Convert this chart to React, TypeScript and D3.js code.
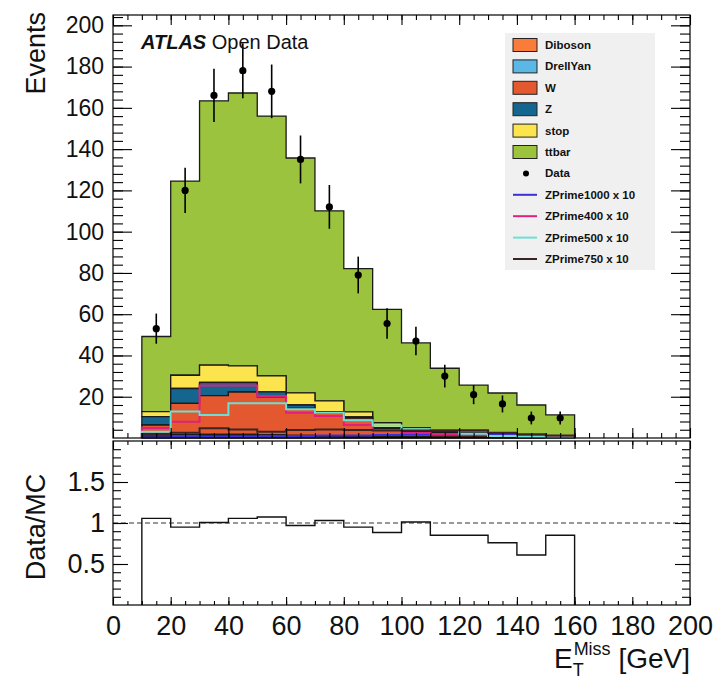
import React, { useEffect, useRef } from 'react';
import { select, scaleLinear, axisLeft, axisRight, axisTop, axisBottom, area, line, curveStepAfter, range } from 'd3';

// bin lower edges (GeV), width 10
const binLow = [10, 20, 30, 40, 50, 60, 70, 80, 90, 100, 110, 120, 130, 140, 150];

// MC stack, bottom to top
const diboson = [0.4, 0.8, 1.0, 1.1, 1.0, 0.9, 0.8, 0.6, 0.5, 0.4, 0.3, 0.3, 0.2, 0.2, 0.1];
const drellYan = [0.5, 0.8, 0.8, 0.6, 0.5, 0.4, 0.3, 0.2, 0.2, 0.1, 0.1, 0.1, 0.1, 0.05, 0.05];
const wjets = [5.4, 15.2, 18.7, 20.6, 18.5, 13.1, 10.9, 8.8, 3.9, 2.7, 2.2, 2.1, 1.3, 0.75, 0.25];
const zjets = [4.1, 7.2, 6.5, 4.7, 2.4, 1.6, 0.8, 0.6, 0.4, 0.3, 0.3, 0.2, 0.2, 0.1, 0.1];
const stop = [2.4, 6.4, 8.3, 8.0, 7.7, 5.9, 5.2, 2.5, 2.4, 1.4, 1.0, 0.9, 0.7, 0.5, 0.2];
const ttbar = [36.4, 94.1, 128.1, 132.2, 125.9, 113.8, 92.1, 69.4, 54.9, 41.2, 29.9, 22.0, 19.3, 14.4, 10.5];

// signal x 10
const zp1000 = [0.3, 0.5, 0.7, 0.8, 1.0, 1.0, 1.2, 1.2, 1.4, 1.6, 1.6, 1.5, 1.5, 1.2, 1.0];
const zp400 = [4.9, 7.9, 25.4, 25.4, 20.3, 12.2, 10.7, 6.3, 3.9, 2.4, 1.9, 1.4, 1.0, 1.5, 1.0];
const zp500 = [3.0, 12.8, 11.2, 16.8, 16.8, 13.9, 12.2, 8.6, 6.1, 4.2, 3.9, 2.0, 1.0, 0.5, 0.3];
const zp750 = [1.9, 2.5, 4.7, 4.1, 3.0, 3.9, 4.1, 3.9, 3.6, 3.6, 3.7, 3.7, 2.5, 1.8, 1.2];

const dataVals = [53, 120, 166, 178, 168, 135, 112, 79, 55.5, 47, 30, 21, 16.5, 9.7, 9.7];
const dataErr = [7.3, 11.0, 12.9, 13.3, 13.0, 11.6, 10.6, 8.9, 7.4, 6.9, 5.5, 4.6, 4.1, 3.1, 3.1];
const ratioVals = [1.057, 0.95, 1.007, 1.057, 1.074, 0.97, 1.03, 0.95, 0.885, 1.012, 0.85, 0.85, 0.76, 0.61, 0.85];

const xTicks = [0, 20, 40, 60, 80, 100, 120, 140, 160, 180, 200];
const yTicks = [20, 40, 60, 80, 100, 120, 140, 160, 180, 200];
const ratioTicks = [0.5, 1, 1.5];

const stackNames = ['Diboson', 'DrellYan', 'W', 'Z', 'stop', 'ttbar'];
const stackColors = ['#fa7c3a', '#5bb7e5', '#e3582f', '#14668f', '#fbe44d', '#9cc33e'];
const sigNames = ['ZPrime1000 x 10', 'ZPrime400 x 10', 'ZPrime500 x 10', 'ZPrime750 x 10'];
const sigColors = ['#3b2fd8', '#e0207f', '#6be0d6', '#3d2424'];

const FONT = '"Liberation Sans", Arial, Helvetica, sans-serif';

const App = () => {
  const svgRef = useRef(null);

  useEffect(() => {
    const svg = select(svgRef.current);
    svg.selectAll('*').remove();

    const x = scaleLinear().domain([0, 200]).range([113, 690]);
    const y = scaleLinear().domain([0, 205]).range([438, 15]);
    const yr = scaleLinear().domain([0, 2]).range([605, 441]);

    const stacks = [diboson, drellYan, wjets, zjets, stop, ttbar];
    const cum = [];
    let base = binLow.map(() => 0);
    stacks.forEach((s) => {
      const top = s.map((v, i) => base[i] + v);
      cum.push({ lo: base, hi: top });
      base = top;
    });

    const stepPts = (arr) => [...arr.map((v, i) => ({ x: binLow[i], v })), { x: binLow[binLow.length - 1] + 10, v: arr[arr.length - 1] }];

    const main = svg.append('g');
    // stack: draw from the top layer down
    for (let k = cum.length - 1; k >= 0; k--) {
      const { lo, hi } = cum[k];
      const pts = [...binLow.map((b, i) => ({ x: b, lo: lo[i], hi: hi[i] })), { x: 160, lo: lo[lo.length - 1], hi: hi[hi.length - 1] }];
      const a = area()
        .x((d) => x(d.x))
        .y0((d) => y(d.lo))
        .y1((d) => y(d.hi))
        .curve(curveStepAfter);
      main.append('path')
        .attr('d', a(pts))
        .attr('fill', stackColors[k])
        .attr('stroke', '#1b1b1b')
        .attr('stroke-width', 1.3);
    }

    // signal lines
    const stepLine = line().x((d) => x(d.x)).y((d) => d.y).curve(curveStepAfter);
    [zp1000, zp400, zp500, zp750].forEach((s, k) => {
      const pts = [{ x: 10, y: y(0) }, ...stepPts(s).map((p) => ({ x: p.x, y: y(p.v) })), { x: 160, y: y(0) }];
      main.append('path')
        .attr('d', stepLine(pts))
        .attr('fill', 'none')
        .attr('stroke', sigColors[k])
        .attr('stroke-width', 2);
    });

    // data
    const dg = main.append('g');
    dataVals.forEach((v, i) => {
      const cx = x(binLow[i] + 5);
      dg.append('line')
        .attr('x1', cx).attr('x2', cx)
        .attr('y1', y(v - dataErr[i])).attr('y2', y(v + dataErr[i]))
        .attr('stroke', '#000').attr('stroke-width', 1.6);
      dg.append('circle').attr('cx', cx).attr('cy', y(v)).attr('r', 3.6).attr('fill', '#000');
    });

    // ratio panel
    const rg = svg.append('g');
    rg.append('line')
      .attr('x1', x(0)).attr('x2', x(200))
      .attr('y1', yr(1)).attr('y2', yr(1))
      .attr('stroke', '#333').attr('stroke-width', 1).attr('stroke-dasharray', '5,3');
    const rpts = [{ x: 10, y: yr(0) }, ...stepPts(ratioVals).map((p) => ({ x: p.x, y: yr(p.v) })), { x: 160, y: yr(0) }];
    rg.append('path')
      .attr('d', stepLine(rpts))
      .attr('fill', 'none').attr('stroke', '#111').attr('stroke-width', 1.4);

    // frames
    [[15, 438], [441, 605]].forEach(([t, b]) => {
      svg.append('rect')
        .attr('x', x(0)).attr('y', t)
        .attr('width', x(200) - x(0)).attr('height', b - t)
        .attr('fill', 'none').attr('stroke', '#000').attr('stroke-width', 1.2);
    });

    const addAxis = (ax, tx, ty, fontSize) => {
      const g = svg.append('g').attr('transform', `translate(${tx},${ty})`).call(ax);
      g.select('.domain').remove();
      g.selectAll('line').attr('stroke', '#000').attr('stroke-width', 1.1);
      g.selectAll('text').attr('font-family', FONT).attr('font-size', fontSize).attr('fill', '#111');
      return g;
    };

    const xMinor = range(5, 200, 5);
    const yMinor = range(4, 205, 4);
    const rMinor = range(0.1, 2, 0.1);

    // main axes
    addAxis(axisLeft(y).tickValues(yTicks).tickSize(-19).tickPadding(9), x(0), 0, 23);
    addAxis(axisLeft(y).tickValues(yMinor).tickSize(-10).tickFormat(() => ''), x(0), 0, 10);
    addAxis(axisRight(y).tickValues(yTicks).tickSize(-19).tickFormat(() => ''), x(200), 0, 10);
    addAxis(axisRight(y).tickValues(yMinor).tickSize(-10).tickFormat(() => ''), x(200), 0, 10);
    addAxis(axisTop(x).tickValues(xTicks).tickSize(-10).tickFormat(() => ''), 0, 15, 10);
    addAxis(axisTop(x).tickValues(xMinor).tickSize(-5).tickFormat(() => ''), 0, 15, 10);
    addAxis(axisBottom(x).tickValues(xTicks).tickSize(-10).tickFormat(() => ''), 0, 438, 10);
    addAxis(axisBottom(x).tickValues(xMinor).tickSize(-5).tickFormat(() => ''), 0, 438, 10);

    // ratio axes
    addAxis(axisLeft(yr).tickValues(ratioTicks).tickSize(-15).tickPadding(8).tickFormat((d) => String(d)), x(0), 0, 27);
    addAxis(axisLeft(yr).tickValues(rMinor).tickSize(-8).tickFormat(() => ''), x(0), 0, 10);
    addAxis(axisRight(yr).tickValues(ratioTicks).tickSize(-15).tickFormat(() => ''), x(200), 0, 10);
    addAxis(axisRight(yr).tickValues(rMinor).tickSize(-8).tickFormat(() => ''), x(200), 0, 10);
    addAxis(axisTop(x).tickValues(xTicks).tickSize(-8).tickFormat(() => ''), 0, 441, 10);
    addAxis(axisTop(x).tickValues(xMinor).tickSize(-4).tickFormat(() => ''), 0, 441, 10);
    addAxis(axisBottom(x).tickValues(xTicks).tickSize(-8).tickPadding(11), 0, 605, 27);
    addAxis(axisBottom(x).tickValues(xMinor).tickSize(-4).tickFormat(() => ''), 0, 605, 10);

    // titles
    svg.append('text')
      .attr('transform', 'translate(45,12) rotate(-90)')
      .attr('text-anchor', 'end')
      .attr('font-family', FONT).attr('font-size', 27).attr('fill', '#111')
      .text('Events');
    svg.append('text')
      .attr('transform', 'translate(45,527) rotate(-90)')
      .attr('text-anchor', 'middle')
      .attr('font-family', FONT).attr('font-size', 27).attr('fill', '#111')
      .text('Data/MC');

    const xt = svg.append('text')
      .attr('x', 690).attr('y', 668)
      .attr('text-anchor', 'end')
      .attr('font-family', FONT).attr('font-size', 28).attr('fill', '#111');
    xt.append('tspan').text('E');
    xt.append('tspan').attr('font-size', 18).attr('dy', 8).text('T');
    xt.append('tspan').attr('font-size', 18).attr('dx', -10).attr('dy', -21).text('Miss');
    xt.append('tspan').attr('dy', 13).text(' [GeV]');

    const at = svg.append('text')
      .attr('x', 141).attr('y', 49)
      .attr('font-family', FONT).attr('font-size', 20).attr('fill', '#111');
    at.append('tspan').attr('font-weight', 'bold').attr('font-style', 'italic').text('ATLAS');
    at.append('tspan').text(' Open Data');

    // legend
    const lg = svg.append('g');
    lg.append('rect').attr('x', 505).attr('y', 33).attr('width', 150).attr('height', 237).attr('fill', '#f0f0f0');
    const rowY = (i) => 45 + i * 21.4;
    const lfont = (t, i) => lg.append('text')
      .attr('x', 545).attr('y', rowY(i) + 4)
      .attr('font-family', FONT).attr('font-size', 11.5).attr('font-weight', 'bold').attr('fill', '#111')
      .text(t);
    stackNames.forEach((n, i) => {
      lg.append('rect').attr('x', 513).attr('y', rowY(i) - 6.5).attr('width', 24).attr('height', 13)
        .attr('fill', stackColors[i]).attr('stroke', '#222').attr('stroke-width', 1);
      lfont(n, i);
    });
    lg.append('circle').attr('cx', 526).attr('cy', rowY(6)).attr('r', 3).attr('fill', '#000');
    lfont('Data', 6);
    sigNames.forEach((n, k) => {
      const i = 7 + k;
      lg.append('line').attr('x1', 513).attr('x2', 537).attr('y1', rowY(i)).attr('y2', rowY(i))
        .attr('stroke', sigColors[k]).attr('stroke-width', 2);
      lfont(n, i);
    });
  }, []);

  return (
    <svg ref={svgRef} width={716} height={682}
      style={{ position: 'absolute', left: 0, top: 0, background: '#fff' }} />
  );
};

export default App;
